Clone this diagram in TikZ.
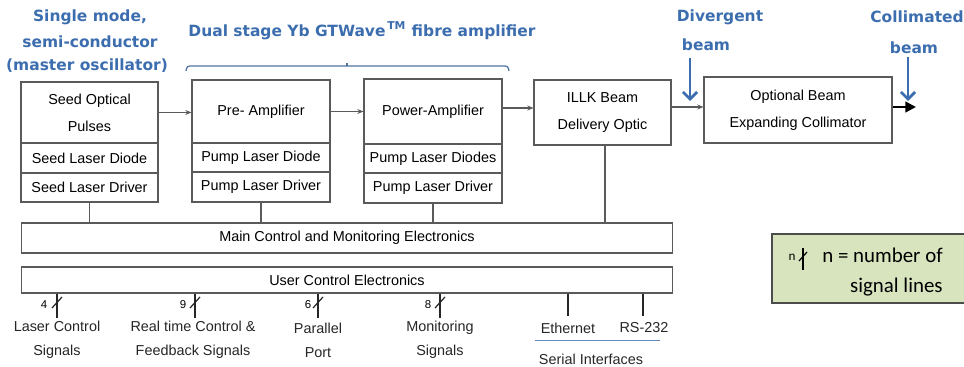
\documentclass[tikz,border=0pt]{standalone}
\usepackage{fontspec}
\setmainfont{Liberation Sans}
\newfontfamily\headfont{DejaVu Sans}
\newfontfamily\legfont{Carlito}
\usetikzlibrary{arrows.meta}
\definecolor{boxgray}{RGB}{90,90,90}
\definecolor{headblue}{RGB}{60,110,175}
\definecolor{leggreen}{RGB}{215,228,189}
\tikzset{
  box/.style={draw=boxgray, line width=0.6pt, inner sep=0pt, align=center,
    font=\fontsize{8.2}{15.5}\selectfont},
  head/.style={text=headblue, font=\headfont\bfseries\fontsize{8.8}{10}\selectfont, inner sep=0pt},
  lbl/.style={font=\fontsize{8.2}{13.6}\selectfont, align=center, inner sep=0pt, text=black!85},
  num/.style={font=\fontsize{6.5}{7}\selectfont, inner sep=0pt},
  link/.style={draw=boxgray, line width=0.6pt},
  arr/.style={link, -{Stealth[length=3.5pt,width=2.8pt]}},
  bluearr/.style={draw=headblue, line width=1.6pt, -{Straight Barb[length=4pt,width=8pt]}},
  sigline/.style={draw=black!85, line width=1pt},
  slashline/.style={draw=black!85, line width=0.7pt},
  thicksig/.style={draw=black!85, line width=1.4pt},
}
\begin{document}
\begin{tikzpicture}[x=0.02cm, y=-0.02cm]
\useasboundingbox (0,0) rectangle (964,367);

% headings
\node[head] (h1) at (90,17) {Single mode,};
\node[head] (h2) at (90,42) {semi-conductor};
\node[head] (h3) at (87,66) {(master oscillator)};
\node[head] (h4) at (362,31) {Dual stage Yb GTWave\textsuperscript{\,TM} fibre amplifier};
\node[head] (h5) at (720,17) {Divergent};
\node[head] (h6) at (706,45) {beam};
\node[head] (h7) at (917,17) {Collimated};
\node[head] (h8) at (914,48) {beam};

% bracket
\draw[draw=headblue!70!gray, line width=0.7pt, rounded corners=1.5pt]
  (186,71) -- (187,66) -- (508,66) -- (509,71);
\draw[draw=headblue!70!gray, line width=0.7pt] (347,66) -- (347,63);

% seed
\node[box, minimum width=2.74cm, minimum height=1.22cm] (seedtop) at (89.5,112.5) {Seed Optical\\Pulses};
\node[box, minimum width=2.74cm, minimum height=0.6cm] (seeddio) at (89.5,158) {Seed Laser Diode};
\node[box, minimum width=2.74cm, minimum height=0.58cm] (seeddrv) at (89.5,187.5) {Seed Laser Driver};
% pre
\node[box, minimum width=2.76cm, minimum height=1.26cm] (pretop) at (261,111.5) {Pre- Amplifier};
\node[box, minimum width=2.76cm, minimum height=0.58cm] (predio) at (261,157.5) {Pump Laser Diode};
\node[box, minimum width=2.76cm, minimum height=0.6cm] (predrv) at (261,187) {Pump Laser Driver};
% power
\node[box, minimum width=2.76cm, minimum height=1.3cm] (powtop) at (433,111.5) {Power-Amplifier};
\node[box, minimum width=2.76cm, minimum height=0.58cm] (powdio) at (433,158.5) {Pump Laser Diodes};
\node[box, minimum width=2.76cm, minimum height=0.6cm] (powdrv) at (433,188) {Pump Laser Driver};
% illk
\node[box, minimum width=2.74cm, minimum height=1.3cm] (illk) at (602.5,112.5) {ILLK Beam\\Delivery Optic};
% optional
\node[box, minimum width=3.76cm, minimum height=1.32cm] (opt) at (798,110) {Optional Beam\\Expanding Collimator};
% main & user
\node[box, minimum width=13.04cm, minimum height=0.6cm] (main) at (347,238) {Main Control and Monitoring Electronics};
\node[box, minimum width=13.04cm, minimum height=0.52cm] (user) at (347,280) {User Control Electronics};

% optical path arrows
\draw[arr] (seedtop.east) -- (seedtop.east -| pretop.west);
\draw[arr] (pretop.east) -- (pretop.east -| powtop.west);
\draw[arr] ([yshift=0.07cm]powtop.east) -- ([yshift=0.07cm]powtop.east -| illk.west);
\draw[arr] ([yshift=0.06cm]opt.west -| illk.east) -- ([yshift=0.06cm]opt.west);
\coordinate (out) at (916,107);
\draw[draw=black, line width=1.3pt, -{Triangle[length=6pt,width=6pt]}] (opt.east |- out) -- (out);

% blue arrows
\coordinate (d0) at (690,58);
\coordinate (d1) at (690,101);
\coordinate (c0) at (908,57);
\coordinate (c1) at (908,101);
\draw[bluearr] (d0) -- (d1);
\draw[bluearr] (c0) -- (c1);

% control connectors
\draw[link] (seeddrv.south) -- (seeddrv.south |- main.north);
\draw[link] (predrv.south) -- (predrv.south |- main.north);
\draw[link] (powdrv.south) -- (powdrv.south |- main.north);
\draw[link] ([xshift=0.05cm]illk.south) -- ([xshift=0.05cm]illk.south |- main.north);

% signal lines
\coordinate (sa) at (57,318);
\coordinate (sb) at (195,318);
\coordinate (sc) at (318,318);
\coordinate (sd) at (440,318);
\draw[sigline] (user.south -| sa) -- (sa);
\draw[sigline] (user.south -| sb) -- (sb);
\draw[sigline] (user.south -| sc) -- (sc);
\draw[sigline] (user.south -| sd) -- (sd);
\draw[slashline] (52,308) -- (62,297);
\draw[slashline] (190,308) -- (200,297);
\draw[slashline] (313,308) -- (323,297);
\draw[slashline] (435,308) -- (445,297);
\node[num] (na) at (44,305) {4};
\node[num] (nb) at (183,305) {9};
\node[num] (nc) at (308,305) {6};
\node[num] (nd) at (428,305) {8};
\node[lbl] (la) at (57,340) {Laser Control\\Signals};
\node[lbl] (lb) at (193,340) {Real time Control \&\\Feedback Signals};
\node[lbl] (lc) at (318,340) {Parallel\\Port};
\node[lbl] (ld) at (440,340) {Monitoring\\Signals};

\coordinate (e1) at (568,316);
\coordinate (e2) at (643,316);
\draw[thicksig] (user.south -| e1) -- (e1);
\draw[thicksig] (user.south -| e2) -- (e2);
\node[lbl] (eth) at (568,328) {Ethernet};
\node[lbl] (rs) at (644,328) {RS-232};
\coordinate (u0) at (535,340);
\coordinate (u1) at (660,340);
\draw[draw=headblue!80, line width=0.5pt] (u0) -- (u1);
\node[lbl] (ser) at (591,359) {Serial Interfaces};

% legend
\node[draw=black!70, line width=1.2pt, fill=leggreen, minimum width=4.06cm, minimum height=1.38cm, inner sep=0pt] (leg) at (873.5,268.5) {};
\node[font=\legfont\fontsize{7.5}{8}\selectfont, inner sep=0pt] (ln) at (792,257) {n};
\coordinate (lg0) at (803,248);
\coordinate (lg1) at (803,270);
\draw[draw=black, line width=0.9pt] (lg0) -- (lg1);
\draw[draw=black, line width=0.7pt] (799,261) -- (807,252);
\node[font=\legfont\fontsize{11.9}{13}\selectfont, anchor=west, inner sep=0pt] (lt1) at (822,255) {n = number of};
\node[font=\legfont\fontsize{11.9}{13}\selectfont, anchor=east, inner sep=0pt] (lt2) at (943,287) {signal lines};
\end{tikzpicture}
\end{document}
